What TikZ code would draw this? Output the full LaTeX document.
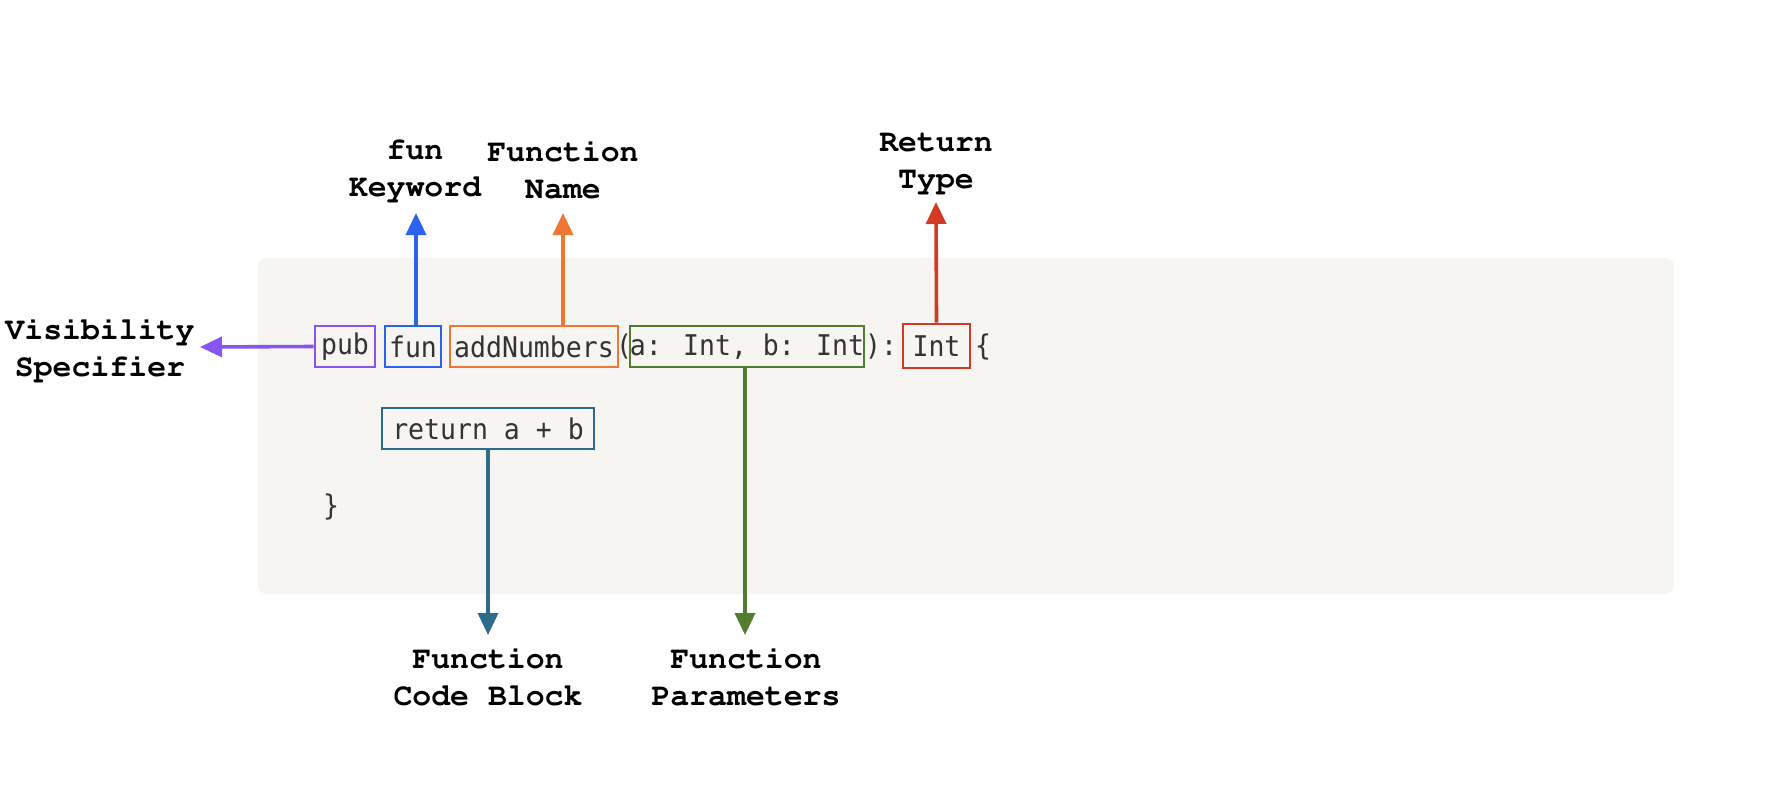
\documentclass[tikz,border=0pt]{standalone}
\usepackage[T1]{fontenc}
\usepackage{fontspec}
\usetikzlibrary{arrows.meta}
\newfontfamily\codefont[FakeStretch=0.93]{DejaVu Sans Mono}
\newcommand{\lblfont}{\fontencoding{T1}\fontfamily{pcr}\fontseries{b}\selectfont}
\definecolor{cpurple}{HTML}{8755F0}
\definecolor{cblue}{HTML}{2B63F0}
\definecolor{corange}{HTML}{EE7733}
\definecolor{cgreen}{HTML}{527D2E}
\definecolor{cred}{HTML}{D23B22}
\definecolor{cteal}{HTML}{2E6A8C}
\definecolor{cbg}{HTML}{F6F5F1}
\definecolor{ctext}{HTML}{333333}
\tikzset{
  lbl/.style={font=\lblfont\fontsize{31.5}{37}\selectfont, align=center, text=black, inner sep=0pt},
  code/.style={font=\codefont\fontsize{28.5}{32}\selectfont, text=ctext, inner sep=0pt},
  tok/.style={code, draw=#1, line width=2.8pt, minimum height=41pt},
  conn/.style={draw=#1, line width=3.6pt, -{Triangle[length=22pt,width=20pt]}},
}
\begin{document}
\begin{tikzpicture}[x=1pt,y=-1pt]
\useasboundingbox (0,0) rectangle (1776,798);
\fill[cbg, rounded corners=8pt] (258,258) rectangle (1674,594);
% tokens
\node[tok=cpurple, minimum width=60pt] (pub) at (345,346.5) {pub};
\node[tok=cblue, minimum width=56pt] (fun) at (413,346.5) {fun};
\node[tok=corange, minimum width=168pt] (name) at (534,346.5) {addNumbers};
\node[code] (lp) at (624,346.5) {(};
\node[tok=cgreen, minimum width=234pt] (params) at (747,346.5) {a: Int, b: Int};
\node[code] (rp) at (881,346.5) {):};
\node[tok=cred, minimum width=67pt, minimum height=44pt] (ret) at (936.5,346) {Int};
\node[code] (lb) at (983,346.5) {\{};
\node[tok=cteal, minimum width=212pt] (body) at (488,428.5) {return a + b};
\node[code] (rb) at (331,507) {\}};
% labels
\node[lbl] (vis) at (100,350) {Visibility\\Specifier};
\node[lbl] (kw) at (415,170) {fun\\Keyword};
\node[lbl] (fn) at (563,170) {Function\\Name};
\node[lbl] (rt) at (936,163) {Return\\Type};
\node[lbl] (cb) at (488,677) {Function\\Code Block};
\node[lbl] (fp) at (746,677) {Function\\Parameters};
% arrow tips
\coordinate (vistip) at (200,347);
\coordinate (kwtip) at (416,213);
\coordinate (fntip) at (563,213);
\coordinate (rttip) at (936,202);
\coordinate (cbtip) at (488,635);
\coordinate (fptip) at (745,635);
% connectors
\draw[conn=cpurple] (pub.west) -- (vistip);
\draw[conn=cblue] (fun.north -| kwtip) -- (kwtip);
\draw[conn=corange] (name.north -| fntip) -- (fntip);
\draw[conn=cred] (ret.north) -- (rttip);
\draw[conn=cteal] (body.south -| cbtip) -- (cbtip);
\draw[conn=cgreen] (params.south -| fptip) -- (fptip);
\end{tikzpicture}
\end{document}
